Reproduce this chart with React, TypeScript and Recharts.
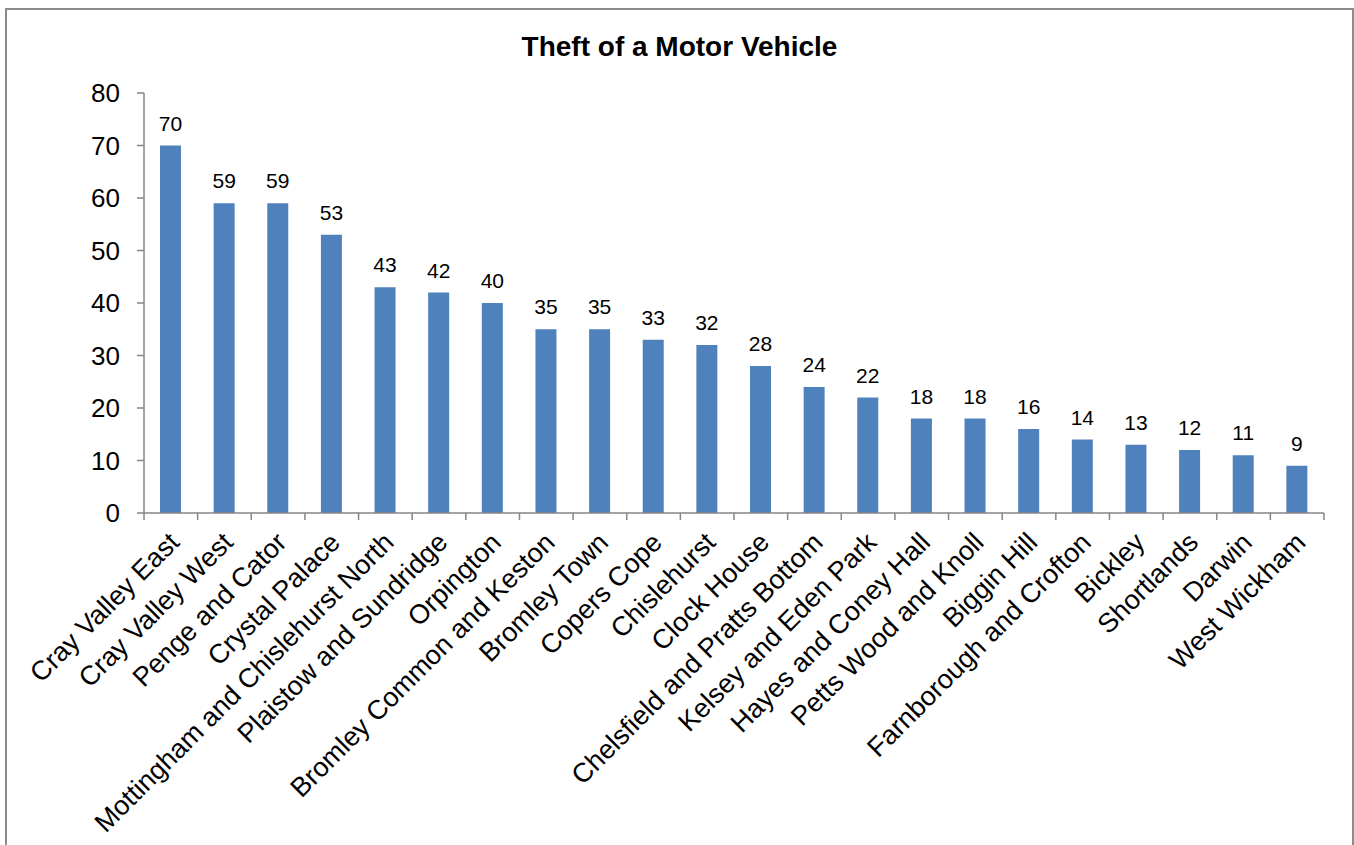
import { BarChart, Bar, XAxis, YAxis, LabelList } from "recharts";

const wards = [
  "Cray Valley East", "Cray Valley West", "Penge and Cator", "Crystal Palace",
  "Mottingham and Chislehurst North", "Plaistow and Sundridge", "Orpington",
  "Bromley Common and Keston", "Bromley Town", "Copers Cope", "Chislehurst",
  "Clock House", "Chelsfield and Pratts Bottom", "Kelsey and Eden Park",
  "Hayes and Coney Hall", "Petts Wood and Knoll", "Biggin Hill",
  "Farnborough and Crofton", "Bickley", "Shortlands", "Darwin", "West Wickham",
];
const thefts = [70, 59, 59, 53, 43, 42, 40, 35, 35, 33, 32, 28, 24, 22, 18, 18, 16, 14, 13, 12, 11, 9];
const yTicks = [0, 10, 20, 30, 40, 50, 60, 70, 80];

const data = wards.map((name, i) => ({ name, value: thefts[i] }));

const FONT = "'Liberation Sans', Arial, sans-serif";
const AXIS = "#868686";

const WardTick = ({ x, y, payload, index }: any) => {
  const half = payload?.offset ?? 26.8;
  return (
    <g>
      <line x1={x - half} y1={y - 7} x2={x - half} y2={y} stroke={AXIS} strokeWidth={1.5} />
      {index === data.length - 1 && (
        <line x1={x + half} y1={y - 7} x2={x + half} y2={y} stroke={AXIS} strokeWidth={1.5} />
      )}
      <text
        x={x + 10}
        y={y + 24}
        textAnchor="end"
        transform={`rotate(-45, ${x + 10}, ${y + 24})`}
        fontSize={27}
        fontFamily={FONT}
        fill="#000"
      >
        {payload.value}
      </text>
    </g>
  );
};

export default function App() {
  return (
    <div
      style={{
        position: "absolute", left: 5, top: 8, width: 1349, height: 850,
        border: "2px solid #8c8c8c", boxSizing: "border-box", background: "#fff",
        fontFamily: FONT,
      }}
    >
      <div
        style={{
          position: "absolute", top: 21, left: 0, width: "100%", textAlign: "center",
          fontWeight: "bold", fontSize: 28, color: "#000",
        }}
      >
        Theft of a Motor Vehicle
      </div>
      <BarChart
        width={1345}
        height={836}
        data={data}
        margin={{ top: 83, right: 28, left: 0, bottom: 0 }}
        barSize={21}
      >
        <XAxis
          dataKey="name"
          interval={0}
          height={333}
          tickLine={false}
          tickSize={7}
          tickMargin={0}
          axisLine={{ stroke: AXIS, strokeWidth: 1.5 }}
          tick={<WardTick />}
        />
        <YAxis
          width={137}
          domain={[0, 80]}
          ticks={yTicks}
          interval={0}
          tickSize={7}
          tickMargin={17}
          axisLine={{ stroke: AXIS, strokeWidth: 1.5 }}
          tickLine={{ stroke: AXIS, strokeWidth: 1.5 }}
          tick={{ fontSize: 26, fill: "#000", fontFamily: FONT }}
        />
        <Bar dataKey="value" fill="#4F81BD" isAnimationActive={false}>
          <LabelList dataKey="value" position="top" offset={15} fontSize={21} fill="#000" fontFamily={FONT} />
        </Bar>
      </BarChart>
    </div>
  );
}
